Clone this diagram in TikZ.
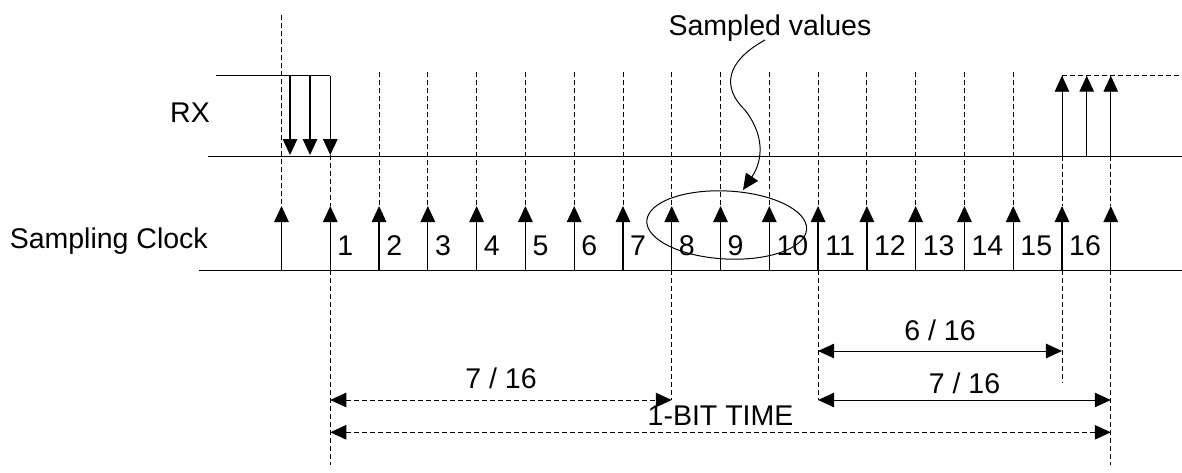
\documentclass[tikz,border=0pt]{standalone}
\usepackage{fontspec}
\setmainfont{Liberation Sans}
\usetikzlibrary{arrows.meta,shapes.geometric}
\begin{document}
\begin{tikzpicture}[x=1pt,y=-1pt,
  lbl/.style={font=\fontsize{28.5}{32}\selectfont, inner sep=0pt},
  tipe/.style={-{Triangle[length=16pt,width=14.5pt]}},
  tips/.style={{Triangle[length=16pt,width=14.5pt]}-{Triangle[length=16pt,width=14.5pt]}},
  dsh/.style={dash pattern=on 5pt off 3pt, line width=0.9pt},
  sol/.style={line width=1.3pt},
  thinl/.style={line width=1pt}]
\useasboundingbox (0,0) rectangle (1182,472);

% tick coordinates
\foreach \k in {0,...,17}{
  \pgfmathsetmacro{\xk}{281.5+48.78*\k}
  \coordinate (cb\k) at (\xk,270);
  \coordinate (ct\k) at (\xk,206);
  \coordinate (rt\k) at (\xk,75.7);
  \coordinate (rb\k) at (\xk,155);
  \coordinate (dt\k) at (\xk,72);
}

% baselines
\coordinate (rxa) at (216,75.7);
\coordinate (rxb) at (208,156);
\coordinate (rxe) at (1182,156);
\coordinate (cka) at (199,270);
\coordinate (cke) at (1182,270);
\coordinate (rxr) at (1182,75.7);
\draw[thinl] (rxa) -- (rt1);
\draw[thinl] (rxb) -- (rxe);
\draw[thinl] (cka) -- (cke);
\draw[dsh] (rt16) -- (rxr);

% labels
\node[lbl, anchor=base east] (rx) at (210,122.3) {RX};
\node[lbl, anchor=base east] (sc) at (208,248) {Sampling Clock};
\node[lbl, anchor=base] (sv) at (770,35) {Sampled values};

% dashed guide lines above clock arrows
\coordinate (d0) at (281.5,15);
\draw[dsh] (d0) -- (ct0);
\draw[dsh] (rb1) -- (ct1);
\foreach \k in {2,...,15}{ \draw[dsh] (dt\k) -- (ct\k); }
\draw[dsh] (rt16) -- (ct16);
\draw[dsh] (rt17) -- (ct17);

% clock arrows
\foreach \k in {0,...,17}{ \draw[sol,tipe] (cb\k) -- (ct\k); }

% numbers
\foreach \k in {1,...,16}{
  \pgfmathsetmacro{\xk}{281.5+48.78*\k+7}
  \node[lbl, anchor=base west] (n\k) at (\xk,255) {\k};
}

% RX falling edge arrows
\coordinate (fa) at (290,75.7);
\coordinate (fb) at (290,155);
\coordinate (fc) at (310,75.7);
\coordinate (fd) at (310,155);
\draw[sol,tipe] (fa) -- (fb);
\draw[sol,tipe] (fc) -- (fd);
\draw[sol,tipe] (rt1) -- (rb1);

% RX rising edge arrows
\coordinate (ua) at (1086.7,156);
\coordinate (ub) at (1086.7,75.7);
\coordinate (ra) at (281.5+48.78*16,156);
\coordinate (rc) at (281.5+48.78*17,156);
\draw[dsh,tipe] (ra) -- (rt16);
\draw[sol,tipe] (ua) -- (ub);
\draw[dsh,tipe] (rc) -- (rt17);

% dashed lines below clock
\coordinate (e1) at (281.5+48.78,465);
\coordinate (e8) at (281.5+48.78*8,400);
\coordinate (e11) at (281.5+48.78*11,400);
\coordinate (e16) at (281.5+48.78*16,383);
\coordinate (e17) at (281.5+48.78*17,465);
\draw[dsh] (cb1) -- (e1);
\draw[dsh] (cb8) -- (e8);
\draw[dsh] (cb11) -- (e11);
\draw[dsh] (cb16) -- (e16);
\draw[dsh] (cb17) -- (e17);

% measurement arrows
\coordinate (m1a) at (281.5+48.78,400);
\coordinate (m6a) at (281.5+48.78*11,351);
\coordinate (m6b) at (281.5+48.78*16,351);
\coordinate (m7a) at (281.5+48.78*11,400);
\coordinate (m7b) at (281.5+48.78*17,400);
\coordinate (bta) at (281.5+48.78,432.3);
\coordinate (btb) at (281.5+48.78*17,432.3);
\draw[dsh,tips] (m1a) -- (e8);
\draw[thinl,tips] (m6a) -- (m6b);
\draw[thinl,tips] (m7a) -- (m7b);
\draw[dsh,tips] (bta) -- (btb);

\node[lbl, anchor=base] (l1) at (501,388) {7 / 16};
\node[lbl, anchor=base] (l2) at (940,340) {6 / 16};
\node[lbl, anchor=base] (l3) at (964.5,393) {7 / 16};
\node[lbl, anchor=base] (l4) at (720.5,425) {1-BIT TIME};

% ellipse and pointer
\node[draw, thinl, ellipse, minimum width=160pt, minimum height=68pt, inner sep=0pt, rotate=-3] (ell) at (726.7,225) {};
\coordinate (ps) at (765,40);
\coordinate (pm) at (745,110);
\coordinate (pe) at (743,190);
\draw[thinl] (ps) .. controls (725,62) and (722,88) .. (pm);
\draw[thinl,tipe] (pm) .. controls (768,140) and (760,165) .. (pe);
\end{tikzpicture}
\end{document}
